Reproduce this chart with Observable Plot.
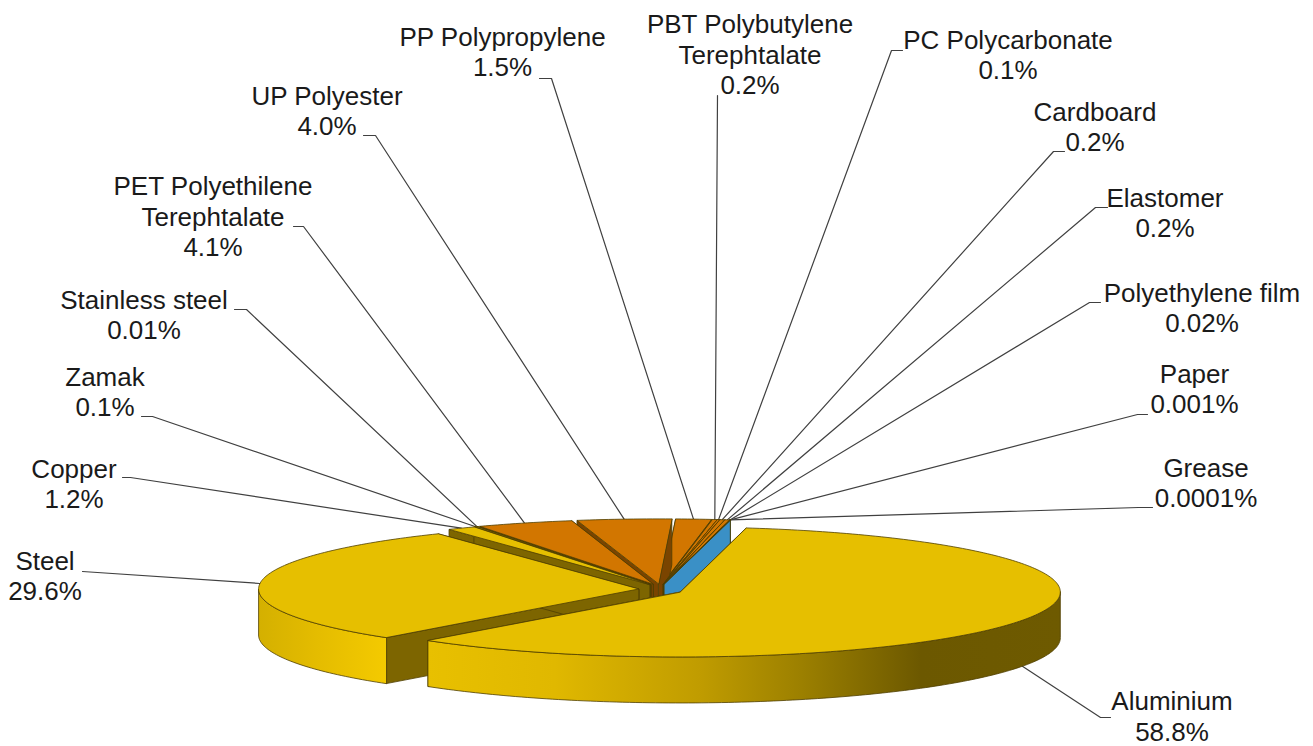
<!DOCTYPE html>
<html><head><meta charset="utf-8">
<script src="https://cdn.jsdelivr.net/npm/d3@7"></script>
<script src="https://cdn.jsdelivr.net/npm/@observablehq/plot@0.6"></script>
<style>html,body{margin:0;padding:0;background:#fff;overflow:hidden}svg{display:block}</style>
</head><body><div id="chart"></div>
<script>
// ---- data (clockwise from the start of the pie) ----
const materials = ["Aluminium","Steel","Copper","Zamak","Stainless steel","PET Polyethilene\nTerephtalate","UP Polyester","PP Polypropylene","PBT Polybutylene\nTerephtalate","PC Polycarbonate","Cardboard","Elastomer","Polyethylene film","Paper","Grease"];
const shares = [58.8,29.6,1.2,0.1,0.01,4.1,4.0,1.5,0.2,0.1,0.2,0.2,0.02,0.001,0.0001];
const shareLabels = ["58.8%","29.6%","1.2%","0.1%","0.01%","4.1%","4.0%","1.5%","0.2%","0.1%","0.2%","0.2%","0.02%","0.001%","0.0001%"];

// ---- layout and style ----
const topColors  = ["#e6bf00","#e6bf00","#e6bf00","#e6bf00","#e6bf00","#d27600","#d27600","#d27600","#d27600","#d27600","#d27600","#d27600","#d27600","#3a90c6","#3a90c6"];
const wallColors = ["#7d6500","#7d6500","#7d6500","#7d6500","#7d6500","#7a4400","#7a4400","#7a4400","#7a4400","#7a4400","#7a4400","#7a4400","#7a4400","#3a90c6","#3a90c6"];
const edgeColor = "#4f3f00";
const labelX = [1171.5,44.5,73.5,104.5,143.5,212.5,326.5,502,749.5,1007.5,1094.5,1164.5,1201.5,1194,1205.5];
const labelY = [715,574.5,482.5,390.5,313.5,215.5,109.5,50.5,53.5,53.5,125.5,211.5,306.5,387.5,481.5];
const leaderX = [[1110,1100],[82,82],[122,130],[141,152],[234,246],[293,303],[363,375],[539,551],[717,717],[902,891],[1064,1053],[1107,1095],[1100,1089],[1147,1137],[1152,1138]];
const leaderY = [717,571,477,416,309,226,135,78,95,50,151,207,302,414,507];
const pie3d = {cx:660, cy:589, rx:380, ry:65, depth:46, explode:22, explodeYScale:1.5, startDeg:10};
const width = 1313, height = 746;
const wallStops = {
  alWall: [[0,"#e8c000"],[0.2,"#e0b800"],[0.43,"#c09c00"],[0.59,"#9c8000"],[0.78,"#6c5800"],[1,"#6e5a00"]],
  stWall: [[0,"#d4b000"],[0.45,"#e4bc00"],[1,"#f4ca00"]]
};

// ---- geometry derived from the values ----
const rad = d => d * Math.PI / 180;
const arcs = d3.pie().sort(null).startAngle(rad(pie3d.startDeg)).endAngle(rad(pie3d.startDeg + 360))(shares);
const slices = arcs.map((a, i) => {
  const mid = (a.startAngle + a.endAngle) / 2;
  const c = {x: pie3d.cx + pie3d.explode * Math.sin(mid),
             y: pie3d.cy - pie3d.explode * pie3d.explodeYScale * (pie3d.ry / pie3d.rx) * Math.cos(mid)};
  return {i, mid, c, s: a.startAngle, e: a.endAngle};
});
const rim = (c, t, dz = 0) => ({x: c.x + pie3d.rx * Math.sin(t), y: c.y - pie3d.ry * Math.cos(t) + dz});
const arcPts = (c, a, b, dz = 0) => {
  const n = Math.max(1, Math.ceil(Math.abs(b - a) / rad(1)));
  return d3.range(n + 1).map(k => rim(c, a + (b - a) * k / n, dz));
};
const d = pie3d.depth;
const lower = p => ({x: p.x, y: p.y + d});
const sliceFaces = sl => {
  const faces = [];
  const wall = t => [sl.c, rim(sl.c, t), lower(rim(sl.c, t)), lower(sl.c)];
  faces.push({pts: wall(sl.s), fill: wallColors[sl.i]});
  faces.push({pts: wall(sl.e), fill: wallColors[sl.i]});
  const a = Math.max(sl.s, Math.PI / 2), b = Math.min(sl.e, 3 * Math.PI / 2);
  if (b > a) {
    faces.push({pts: [...arcPts(sl.c, a, b), ...arcPts(sl.c, b, a, d)],
      fill: sl.i === 0 ? "url(#alWall)" : sl.i === 1 ? "url(#stWall)" : wallColors[sl.i]});
  }
  faces.push({pts: [sl.c, ...arcPts(sl.c, sl.s, sl.e)], fill: topColors[sl.i]});
  return faces;
};
// painter's order: from the back of the pie towards the viewer
const order = slices.slice().sort((p, q) => Math.cos(q.mid) - Math.cos(p.mid));
const faces = order.flatMap(sliceFaces);

const leaders = slices.map(sl => {
  const front = Math.cos(sl.mid) < -0.1;
  const end = rim(sl.c, sl.mid, front ? d : 0);
  return [{x: leaderX[sl.i][0], y: leaderY[sl.i]}, {x: leaderX[sl.i][1], y: leaderY[sl.i]}, end];
});

const defsMark = () => {
  const defs = d3.create("svg:defs");
  for (const [id, stops] of Object.entries(wallStops)) {
    const g = defs.append("linearGradient").attr("id", id).attr("x1", 0).attr("x2", 1).attr("y1", 0).attr("y2", 0);
    for (const [o, col] of stops) g.append("stop").attr("offset", o).attr("stop-color", col);
  }
  return defs.node();
};

const labels = materials.map((m, i) => ({text: m + "\n" + shareLabels[i], x: labelX[i], y: labelY[i]}));

const plot = Plot.plot({
  width, height, margin: 0,
  x: {domain: [0, width], range: [0, width], axis: null},
  y: {domain: [0, height], range: [0, height], axis: null},
  marks: [
    defsMark,
    ...leaders.map(pts => Plot.line(pts, {x: "x", y: "y", stroke: "#404040", strokeWidth: 1.2, curve: "linear"})),
    ...faces.map(f => Plot.line(f.pts, {x: "x", y: "y", fill: f.fill, stroke: edgeColor, strokeWidth: 0.8, curve: "linear-closed"})),
    Plot.text(labels, {x: "x", y: "y", text: "text", fontFamily: "Liberation Sans", fontSize: 26, lineHeight: 30.5 / 26, lineAnchor: "middle", textAnchor: "middle", fill: "#1a1a1a"})
  ]
});
document.getElementById("chart").append(plot);
</script></body></html>
